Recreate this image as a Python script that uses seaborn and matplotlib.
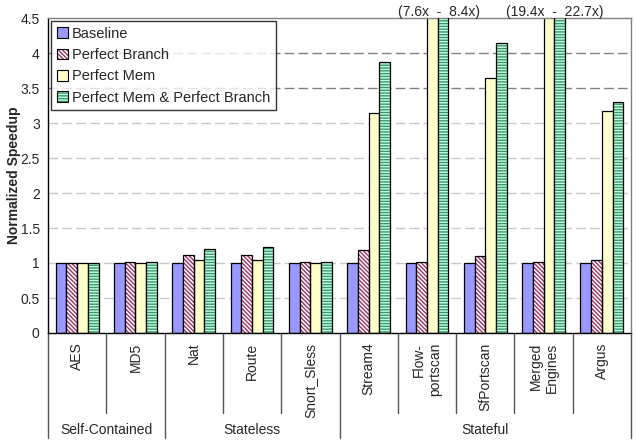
import numpy as np
import pandas as pd
import matplotlib
matplotlib.use("Agg")
import matplotlib.pyplot as plt
import matplotlib.transforms as mtransforms
from matplotlib.patches import Rectangle, Patch
from matplotlib.legend_handler import HandlerTuple
import seaborn as sns

# ---------------- data ----------------
categories = ["AES", "MD5", "Nat", "Route", "Snort_Sless", "Stream4",
              "Flow-\nportscan", "SfPortscan", "Merged\nEngines", "Argus"]
series = ["Baseline", "Perfect Branch", "Perfect Mem", "Perfect Mem & Perfect Branch"]
baseline = [1.00, 1.00, 1.00, 1.00, 1.00, 1.00, 1.00, 1.00, 1.00, 1.00]
perfect_branch = [1.00, 1.01, 1.12, 1.12, 1.01, 1.18, 1.02, 1.10, 1.02, 1.04]
perfect_mem = [1.00, 1.00, 1.05, 1.05, 1.00, 3.15, 7.6, 3.64, 19.4, 3.17]
perfect_both = [1.00, 1.02, 1.20, 1.23, 1.01, 3.87, 8.4, 4.14, 22.7, 3.30]
groups = ["Self-Contained", "Stateless", "Stateful"]
group_sizes = [2, 3, 5]
yticks = [0, 0.5, 1, 1.5, 2, 2.5, 3, 3.5, 4, 4.5]
dark_grid = [3.5, 4]

df = pd.DataFrame({
    "Benchmark": categories * 4,
    "Config": sum([[s] * len(categories) for s in series], []),
    "Speedup": baseline + perfect_branch + perfect_mem + perfect_both,
})

# ---------------- style ----------------
sns.set_theme(style="white")
plt.rcParams["font.family"] = ["Liberation Sans", "DejaVu Sans"]
plt.rcParams["hatch.linewidth"] = 1.0

face_colors = ["#9999FF", "#FFFFFF", "#FFFFCC", "#CCFFE6"]
hatches = [None, "\\" * 8, None, "------"]
hatch_colors = [None, "#993366", None, "#339966"]

fig = plt.figure(figsize=(6.36, 4.48), dpi=100)
ax = fig.add_axes([48 / 636, 1 - 333 / 448, (631 - 48) / 636, (333 - 18) / 448])

sns.barplot(data=df, x="Benchmark", y="Speedup", hue="Config",
            order=categories, hue_order=series, width=0.735,
            palette=face_colors, saturation=1, ax=ax, zorder=2,
            edgecolor="black", linewidth=0.9, legend=False)

for i, cont in enumerate(ax.containers):
    for bar in cont:
        bar.set_facecolor(face_colors[i])
        if hatches[i]:
            bar.set_hatch(hatches[i])
            bar.set_edgecolor(hatch_colors[i])
            bar.set_linewidth(0)
            ax.add_patch(Rectangle(bar.get_xy(), bar.get_width(), bar.get_height(),
                                   fill=False, edgecolor="black", linewidth=0.9,
                                   zorder=3))

ax.set_ylim(0, 4.5)
ax.set_xlim(-0.5, len(categories) - 0.5)
ax.set_yticks(yticks)
ax.set_yticklabels([f"{v:g}" for v in yticks], fontsize=10)
ax.tick_params(axis="y", length=4, width=1, color="black", direction="out", pad=2)
ax.tick_params(axis="x", length=0, pad=7)
ax.set_xticks(range(len(categories)))
ax.set_xticklabels(categories, rotation=90, fontsize=10, va="top", ha="center",
                   multialignment="right")
ax.set_xlabel("")
ax.set_ylabel("Normalized Speedup", fontsize=10, fontweight="bold")
ax.yaxis.set_label_coords(-0.046, 0.5)

for v in yticks[1:-1]:
    ax.axhline(v, color="#808080" if v in dark_grid else "#C8C8C8",
               linewidth=1.0, dashes=(7, 3), zorder=0)

for side in ["left", "bottom"]:
    ax.spines[side].set_color("black")
    ax.spines[side].set_linewidth(1.0)
for side in ["top", "right"]:
    ax.spines[side].set_color("#808080")
    ax.spines[side].set_linewidth(1.0)

# annotations for clipped bars
ymax = 4.5
trans = mtransforms.blended_transform_factory(ax.transData, ax.transAxes)
for j in range(len(categories)):
    if perfect_mem[j] > ymax or perfect_both[j] > ymax:
        ax.text(j + 0.2, 1.02, f"({perfect_mem[j]:.1f}x  -  {perfect_both[j]:.1f}x)",
                transform=trans, ha="center", va="center", fontsize=10)

# separators under the axis
group_edges = np.cumsum([0] + group_sizes) - 0.5
for j in range(1, len(categories)):
    b = j - 0.5
    if b in group_edges:
        continue
    ax.plot([b, b], [0, -0.254], transform=trans, color="#555555", lw=1.0, clip_on=False)
for b in group_edges:
    ax.plot([b, b], [0, -0.333], transform=trans, color="#555555", lw=1.0, clip_on=False)
for g, lo, hi in zip(groups, group_edges[:-1], group_edges[1:]):
    ax.text((lo + hi) / 2, -0.308, g, transform=trans, ha="center", va="center",
            fontsize=10)

# legend
handles = []
for i, s in enumerate(series):
    fill = Patch(facecolor=face_colors[i], hatch=hatches[i] or "",
                 edgecolor=hatch_colors[i] or face_colors[i], linewidth=0)
    outline = Patch(facecolor="none", edgecolor="black", linewidth=0.8)
    handles.append((fill, outline))
leg = ax.legend(handles=handles, labels=series, loc="upper left", bbox_to_anchor=(0.0, 1.0),
                handler_map={tuple: HandlerTuple(ndivide=1, pad=0)},
                fontsize=10.5, frameon=True, fancybox=False, shadow=False,
                handlelength=0.75, handleheight=0.75, handletextpad=0.3,
                borderpad=0.4, labelspacing=0.5, borderaxespad=0.2)
leg.get_frame().set_edgecolor("black")
leg.get_frame().set_linewidth(1.0)
leg.set_zorder(5)

fig.savefig("out.png", dpi=100)
